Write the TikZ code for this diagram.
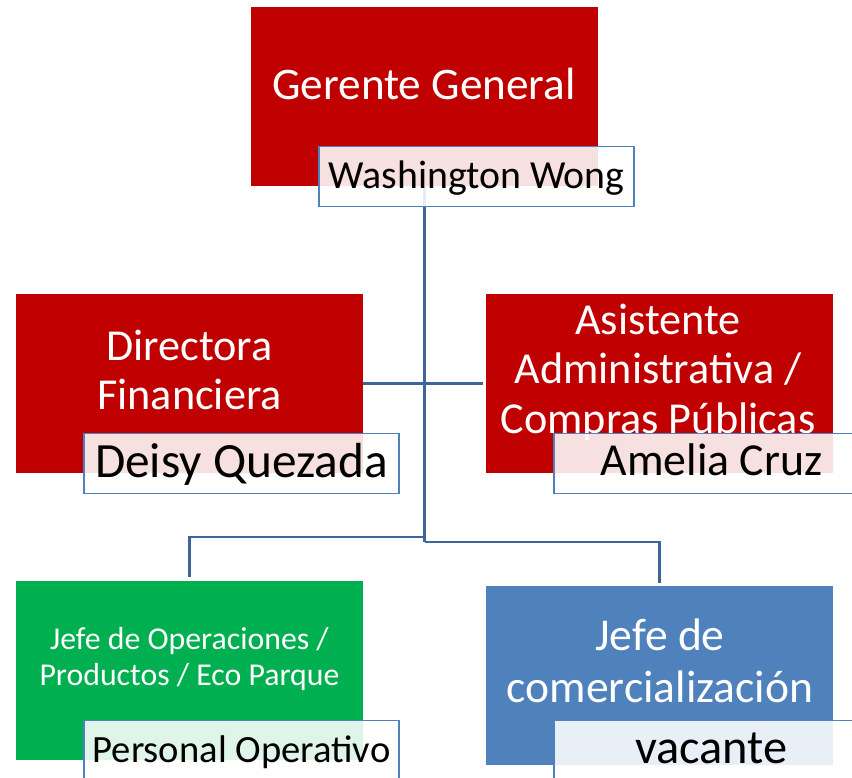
\documentclass[tikz,border=0pt]{standalone}
\usepackage{fontspec}
\setmainfont{Carlito}
\usetikzlibrary{positioning,calc,backgrounds}
\definecolor{boxred}{RGB}{192,0,0}
\definecolor{boxgreen}{RGB}{0,176,80}
\definecolor{boxblue}{RGB}{79,129,189}
\definecolor{linkblue}{RGB}{62,100,152}

\begin{document}
\begin{tikzpicture}[x=1pt, y=-1pt,
	post/.style={rectangle, inner sep=0pt, outer sep=0pt, minimum width=347pt, minimum height=178.5pt, anchor=north west},
	title/.style={text=white, align=center, anchor=base},
	person/.style={rectangle, draw=boxblue, line width=1.8pt, fill=white, fill opacity=0.88, text opacity=1, text=black, minimum width=315pt, minimum height=60pt, inner sep=0pt, outer sep=0pt, anchor=north west, text height=26pt, text depth=3pt},
	link/.style={color=linkblue, line width=2.8pt}
]
\useasboundingbox (0,0) rectangle (852,777);
% posts
\node[post, fill=boxred] (gerente) at (251,7) {};
\node[post, fill=boxred] (directora) at (16,294) {};
\node[post, fill=boxred] (asistente) at (486,294) {};
\node[post, fill=boxgreen] (operaciones) at (16,581) {};
\node[post, fill=boxblue] (comercial) at (486,586) {};
% titles (anchored on the last line)
\node[title, font=\fontsize{45.2}{53}\selectfont] (gerentetext) at (424,99) {Gerente General};
\node[title, font=\fontsize{44.2}{49}\selectfont] (directoratext) at (189.5,409) {Directora\\Financiera};
\node[title, font=\fontsize{44.2}{49.5}\selectfont] (asistentetext) at (658,433) {Asistente\\Administrativa /\\Compras Públicas};
\node[title, font=\fontsize{31.8}{36}\selectfont] (operacionestext) at (189.5,685) {Jefe de Operaciones /\\Productos / Eco Parque};
\node[title, font=\fontsize{45.6}{52}\selectfont] (comercialtext) at (660,702) {Jefe de\\comercialización};
% names
\node[person, font=\fontsize{39.8}{47}\selectfont] (wong) at ([shift={(68,-39)}]gerente.south west) {Washington Wong};
\node[person, font=\fontsize{49.3}{58}\selectfont, text height=27pt, text depth=0pt] (quezada) at ([shift={(68,-39)}]directora.south west) {Deisy Quezada};
\node[person, font=\fontsize{45.8}{54}\selectfont] (cruz) at ([shift={(68,-39)}]asistente.south west) {Amelia Cruz};
\node[person, font=\fontsize{38.6}{45}\selectfont] (operativo) at ([shift={(68,-39)}]operaciones.south west) {Personal Operativo};
\node[person, font=\fontsize{48.4}{56}\selectfont, text height=27pt, text depth=2pt] (vacante) at ([shift={(68,-44)}]comercial.south west) {vacante};
% connectors
\coordinate (hub) at (gerente.center |- 0,542);
\begin{scope}[on background layer]
\draw[link] (gerente.south) -- (hub);
\draw[link] (directora.east) -- ([xshift=-3pt]asistente.west);
\draw[link] (gerente.center |- 0,537) -| ([yshift=4pt]operaciones.north);
\draw[link] (hub) -| ([yshift=3pt]comercial.north);
\end{scope}
\end{tikzpicture}
\end{document}
